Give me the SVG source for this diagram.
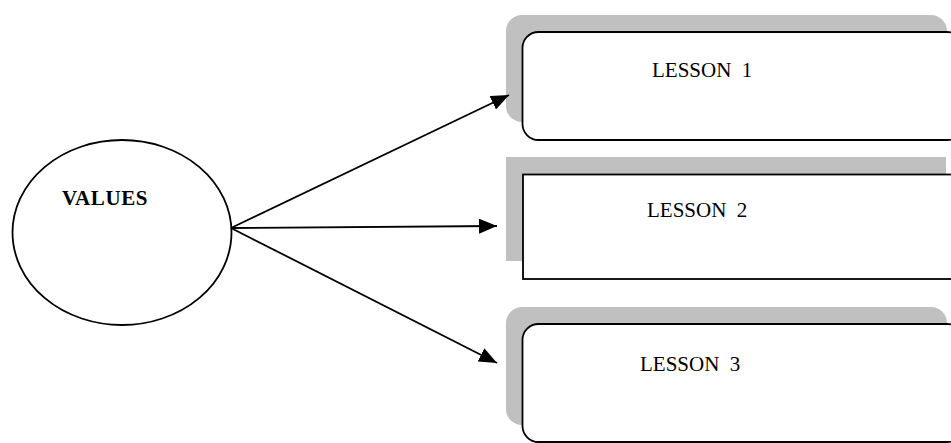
<svg xmlns="http://www.w3.org/2000/svg" width="951" height="443" viewBox="0 0 951 443">
<defs>
<marker id="ah" markerWidth="18" markerHeight="15" refX="18" refY="7.5" orient="auto" markerUnits="userSpaceOnUse">
<path d="M0,0 L18,7.5 L0,15 Z" fill="#000"/>
</marker>
</defs>
<style>
.shadow{fill:#c0c0c0;stroke:none}
.box{fill:#fff;stroke:#000;stroke-width:1.8}
.lbl{font-family:"Liberation Serif","Times New Roman",serif;font-size:21px;fill:#000}
.bold{font-weight:bold}
.conn{stroke:#000;stroke-width:1.8;fill:none}
</style>
<rect width="951" height="443" fill="#fff"/>
<g id="values">
<ellipse cx="122" cy="232.5" rx="109.5" ry="92.5" fill="#fff" stroke="#000" stroke-width="1.8"/>
<text class="lbl bold" x="62" y="205" letter-spacing="0.6">VALUES</text>
</g>
<g id="lesson1">
<rect class="shadow" x="506" y="15" width="441" height="107" rx="16"/>
<rect class="box" x="522.5" y="32" width="441" height="108" rx="16"/>
<text class="lbl" x="652" y="77" xml:space="preserve">LESSON  1</text>
</g>
<g id="lesson2">
<rect class="shadow" x="506" y="157" width="440" height="104"/>
<rect class="box" x="523" y="174.5" width="441" height="104.5"/>
<text class="lbl" x="647" y="217" xml:space="preserve">LESSON  2</text>
</g>
<g id="lesson3">
<rect class="shadow" x="506" y="307" width="441" height="118" rx="16"/>
<rect class="box" x="522.5" y="324" width="441" height="118" rx="16"/>
<text class="lbl" x="640" y="371" xml:space="preserve">LESSON  3</text>
</g>
<g id="connectors">
<line class="conn" x1="231" y1="228" x2="509" y2="95" marker-end="url(#ah)"/>
<line class="conn" x1="231" y1="228" x2="497" y2="226" marker-end="url(#ah)"/>
<line class="conn" x1="231" y1="228" x2="497" y2="363" marker-end="url(#ah)"/>
</g>
</svg>
